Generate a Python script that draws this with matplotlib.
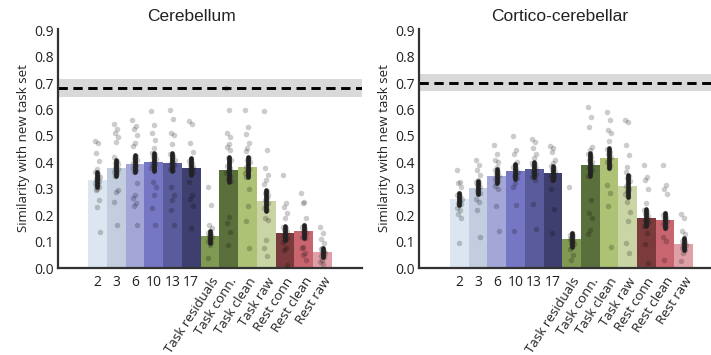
import numpy as np
import matplotlib
matplotlib.use("Agg")
import matplotlib.pyplot as plt

plt.rcParams['font.family'] = ['Open Sans', 'DejaVu Sans']

labels = ['2', '3', '6', '10', '13', '17', 'Task residuals', 'Task conn.',
          'Task clean', 'Task raw', 'Rest conn', 'Rest clean', 'Rest raw']
colors = ['#dce6f0', '#c2cde0', '#a4a6d8', '#7677c4', '#5a5b9a', '#3e3f6e',
          '#809a54', '#5a703c', '#adc274', '#cad5a6', '#7b3b3c', '#c8656e', '#dfa1a7']

# Cerebellum
cb_mean = [0.333, 0.378, 0.393, 0.401, 0.397, 0.378, 0.121, 0.371, 0.382, 0.253, 0.132, 0.140, 0.060]
cb_lo = [0.305, 0.348, 0.364, 0.368, 0.368, 0.352, 0.096, 0.326, 0.343, 0.216, 0.106, 0.112, 0.043]
cb_hi = [0.364, 0.409, 0.427, 0.436, 0.434, 0.415, 0.141, 0.419, 0.419, 0.295, 0.159, 0.164, 0.077]
cb_ceiling = 0.683
cb_band = (0.647, 0.715)
cb_points = [
    [0.481, 0.472, 0.434, 0.405, 0.373, 0.362, 0.355, 0.350, 0.344, 0.340, 0.336, 0.331, 0.327, 0.322, 0.318, 0.312, 0.306, 0.300, 0.295, 0.257, 0.232, 0.137],
    [0.547, 0.528, 0.510, 0.497, 0.478, 0.421, 0.405, 0.398, 0.392, 0.386, 0.380, 0.375, 0.370, 0.365, 0.358, 0.350, 0.295, 0.289, 0.251, 0.163],
    [0.560, 0.537, 0.528, 0.503, 0.472, 0.463, 0.425, 0.418, 0.410, 0.403, 0.397, 0.390, 0.384, 0.378, 0.370, 0.365, 0.320, 0.276, 0.264, 0.245, 0.235, 0.163],
    [0.594, 0.541, 0.512, 0.484, 0.453, 0.435, 0.428, 0.420, 0.413, 0.405, 0.398, 0.392, 0.385, 0.378, 0.370, 0.327, 0.305, 0.276, 0.226, 0.163],
    [0.600, 0.566, 0.512, 0.503, 0.471, 0.432, 0.425, 0.418, 0.410, 0.403, 0.396, 0.390, 0.382, 0.375, 0.370, 0.305, 0.276, 0.257, 0.219, 0.163],
    [0.557, 0.544, 0.472, 0.440, 0.413, 0.405, 0.398, 0.390, 0.384, 0.377, 0.370, 0.362, 0.355, 0.327, 0.276, 0.260, 0.235, 0.150],
    [0.305, 0.239, 0.163, 0.150, 0.140, 0.133, 0.127, 0.121, 0.116, 0.110, 0.104, 0.098, 0.087, 0.036],
    [0.680, 0.598, 0.512, 0.497, 0.471, 0.459, 0.447, 0.417, 0.408, 0.398, 0.388, 0.378, 0.368, 0.358, 0.348, 0.338, 0.328, 0.194, 0.169, 0.138, 0.087],
    [0.598, 0.534, 0.509, 0.474, 0.453, 0.444, 0.417, 0.408, 0.400, 0.392, 0.384, 0.376, 0.368, 0.360, 0.352, 0.345, 0.301, 0.235, 0.179, 0.074],
    [0.594, 0.448, 0.377, 0.351, 0.335, 0.317, 0.293, 0.285, 0.275, 0.266, 0.257, 0.248, 0.238, 0.228, 0.218, 0.190, 0.181, 0.106, 0.074, 0.045],
    [0.352, 0.245, 0.232, 0.207, 0.188, 0.157, 0.150, 0.143, 0.136, 0.128, 0.120, 0.112, 0.107, 0.099, 0.074, 0.068, 0.012],
    [0.285, 0.251, 0.245, 0.188, 0.162, 0.155, 0.147, 0.140, 0.133, 0.125, 0.118, 0.113, 0.080, 0.074, 0.055, 0.049, 0.030],
    [0.154, 0.131, 0.108, 0.096, 0.076, 0.071, 0.066, 0.061, 0.056, 0.051, 0.046, 0.040, 0.030, 0.022, 0.017],
]

# Cortico-cerebellar
cc_mean = [0.261, 0.303, 0.348, 0.367, 0.374, 0.359, 0.110, 0.390, 0.416, 0.310, 0.189, 0.182, 0.091]
cc_lo = [0.238, 0.280, 0.323, 0.337, 0.345, 0.333, 0.081, 0.348, 0.377, 0.267, 0.159, 0.152, 0.068]
cc_hi = [0.285, 0.329, 0.373, 0.393, 0.401, 0.387, 0.134, 0.434, 0.453, 0.352, 0.223, 0.209, 0.112]
cc_ceiling = 0.702
cc_band = (0.671, 0.734)
cc_points = [
    [0.370, 0.326, 0.320, 0.305, 0.284, 0.278, 0.272, 0.266, 0.260, 0.254, 0.248, 0.242, 0.238, 0.226, 0.219, 0.205, 0.191, 0.093],
    [0.410, 0.390, 0.370, 0.354, 0.335, 0.327, 0.320, 0.313, 0.306, 0.299, 0.292, 0.285, 0.280, 0.260, 0.250, 0.219, 0.118],
    [0.465, 0.433, 0.410, 0.400, 0.383, 0.371, 0.364, 0.357, 0.350, 0.343, 0.336, 0.329, 0.323, 0.310, 0.300, 0.236, 0.141],
    [0.500, 0.446, 0.431, 0.402, 0.391, 0.384, 0.377, 0.370, 0.363, 0.356, 0.348, 0.340, 0.320, 0.308, 0.240, 0.141],
    [0.487, 0.478, 0.453, 0.433, 0.418, 0.399, 0.392, 0.385, 0.378, 0.371, 0.364, 0.357, 0.350, 0.345, 0.333, 0.241, 0.147],
    [0.461, 0.453, 0.440, 0.408, 0.396, 0.385, 0.378, 0.371, 0.364, 0.357, 0.350, 0.343, 0.335, 0.300, 0.222, 0.134],
    [0.308, 0.132, 0.126, 0.120, 0.114, 0.108, 0.102, 0.096, 0.090, 0.084, 0.071, 0.050, 0.030],
    [0.610, 0.570, 0.535, 0.460, 0.446, 0.430, 0.420, 0.410, 0.400, 0.390, 0.380, 0.370, 0.360, 0.350, 0.257, 0.207, 0.188, 0.144, 0.129],
    [0.590, 0.560, 0.522, 0.510, 0.480, 0.450, 0.440, 0.430, 0.420, 0.410, 0.400, 0.390, 0.380, 0.314, 0.285, 0.235, 0.081],
    [0.562, 0.553, 0.465, 0.427, 0.383, 0.365, 0.350, 0.340, 0.330, 0.320, 0.310, 0.300, 0.290, 0.280, 0.270, 0.251, 0.213, 0.179, 0.093, 0.058],
    [0.390, 0.343, 0.333, 0.298, 0.247, 0.221, 0.213, 0.205, 0.197, 0.189, 0.181, 0.173, 0.165, 0.160, 0.131, 0.091, 0.018],
    [0.390, 0.314, 0.301, 0.280, 0.207, 0.200, 0.193, 0.186, 0.179, 0.172, 0.165, 0.158, 0.153, 0.118, 0.103, 0.030],
    [0.206, 0.188, 0.141, 0.129, 0.110, 0.104, 0.098, 0.092, 0.086, 0.080, 0.074, 0.069, 0.055, 0.027],
]


def draw_panel(ax, title, title_x, mean, lo, hi, points, ceiling, band, xlim):
    x = np.arange(len(labels))
    ax.axhspan(band[0], band[1], color='#d9d9d9', lw=0, zorder=0)
    ax.axhline(ceiling, color='black', lw=2.1, linestyle=(0, (3.2, 1.9)), zorder=1)
    ax.bar(x, mean, width=1.0, color=colors, lw=0, zorder=2)
    for i, vals in enumerate(points):
        n = len(vals)
        # small deterministic jitter around bar centre
        offs = (((np.arange(n) * 0.618) % 1.0) - 0.5) * 0.26
        ax.scatter(x[i] + offs, vals, s=16, color='black', alpha=0.2, lw=0, zorder=3)
        ax.plot([x[i], x[i]], [lo[i], hi[i]], color='#222222', lw=3.4,
                solid_capstyle='round', zorder=4)
    ax.set_xlim(*xlim)
    ax.set_ylim(0, 0.905)
    ax.set_yticks(np.arange(0, 0.91, 0.1))
    ax.set_yticklabels(['%.1f' % v for v in np.arange(0, 0.91, 0.1)], fontsize=10, color='#222222')
    ax.set_xticks(x)
    ax.set_xticklabels(labels, fontsize=10, color='#222222')
    for j, t in enumerate(ax.get_xticklabels()):
        if j >= 6:
            t.set_rotation(57)
            t.set_fontsize(9.5)
            t.set_ha('right')
            t.set_rotation_mode('anchor')
    ax.tick_params(length=0, pad=3)
    ax.tick_params(axis='x', pad=5)
    for s in ['top', 'right']:
        ax.spines[s].set_visible(False)
    for s in ['left', 'bottom']:
        ax.spines[s].set_linewidth(1.6)
        ax.spines[s].set_color('#333333')
    ax.set_ylabel('Similarity with new task set', fontsize=9.5, color='#222222', labelpad=3)
    ax.set_title(title, fontsize=12.5, family='Liberation Sans', color='#222222', x=title_x, pad=6)


fig = plt.figure(figsize=(7.11, 3.55), dpi=100)
ax1 = fig.add_axes([58 / 711, 87 / 355, 304 / 711, 239 / 355])
ax2 = fig.add_axes([419 / 711, 87 / 355, 292 / 711, 239 / 355])

draw_panel(ax1, 'Cerebellum', 0.44, cb_mean, cb_lo, cb_hi, cb_points, cb_ceiling, cb_band, (-2.1, 14.1))
draw_panel(ax2, 'Cortico-cerebellar', 0.483, cc_mean, cc_lo, cc_hi, cc_points, cc_ceiling, cc_band, (-2.16, 13.46))

fig.savefig('out.png', dpi=100)
